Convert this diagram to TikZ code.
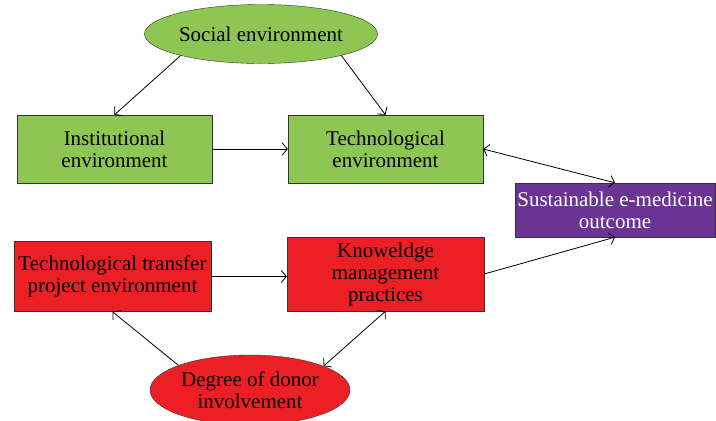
\documentclass[tikz,border=0pt]{standalone}
\usepackage{fontspec}
\setmainfont{Liberation Serif}
\usetikzlibrary{shapes,arrows.meta}
\definecolor{mygreen}{RGB}{141,198,82}
\definecolor{myred}{RGB}{236,32,36}
\definecolor{mypurple}{RGB}{105,52,147}

\begin{document}
\begin{tikzpicture}[x=1pt,y=-1pt,
  every node/.style={draw=black!80,align=center,font=\fontsize{21}{22}\selectfont},
  gbox/.style={fill=mygreen,minimum width=195pt,minimum height=68pt},
  rbox/.style={fill=myred,minimum width=197pt,minimum height=70pt,inner sep=1pt},
  gell/.style={ellipse,fill=mygreen,minimum width=233pt,minimum height=59pt,inner sep=0pt},
  rell/.style={ellipse,fill=myred,minimum width=200pt,minimum height=70pt,inner sep=0pt},
  pbox/.style={fill=mypurple,text=white,minimum width=200pt,minimum height=54pt,inner sep=1pt},
  arr/.style={-{Straight Barb[length=5pt,width=12pt]},line width=0.8pt},
  darr/.style={{Straight Barb[length=5pt,width=12pt]}-{Straight Barb[length=5pt,width=12pt]},line width=0.8pt}
]
\useasboundingbox (0,0) rectangle (716,421);

% the environments
\node [gell] (soc) at (261,34) {Social environment};
\node [gbox] (inst) at (114.5,149) {Institutional\\environment};
\node [gbox] (tech) at (385.5,149) {Technological\\environment};

% the outcome
\node [pbox] (sust) at (615,210) {Sustainable e-medicine\\outcome};

% the project side
\node [rbox] (tt) at (112.5,276.5) {Technological transfer\\project environment};
\node [rbox,minimum height=74pt] (know) at (385.5,274) {Knoweldge\\management\\practices};
\node [rell] (don) at (250,390) {Degree of donor\\involvement};

% the edges
\draw [arr] (soc.195) -- (inst.north);
\draw [arr] (soc.345) -- (tech.north);
\draw [arr] (inst.east) -- (tech.west);
\draw [darr] (tech.east) -- (sust.north);
\draw [arr] (know.east) -- (sust.south);
\draw [arr] (tt.east) -- (tt.east -| know.west);
\draw [arr] (don.161) -- (tt.south);
\draw [darr] (don.18) -- (know.south);
\end{tikzpicture}
\end{document}
